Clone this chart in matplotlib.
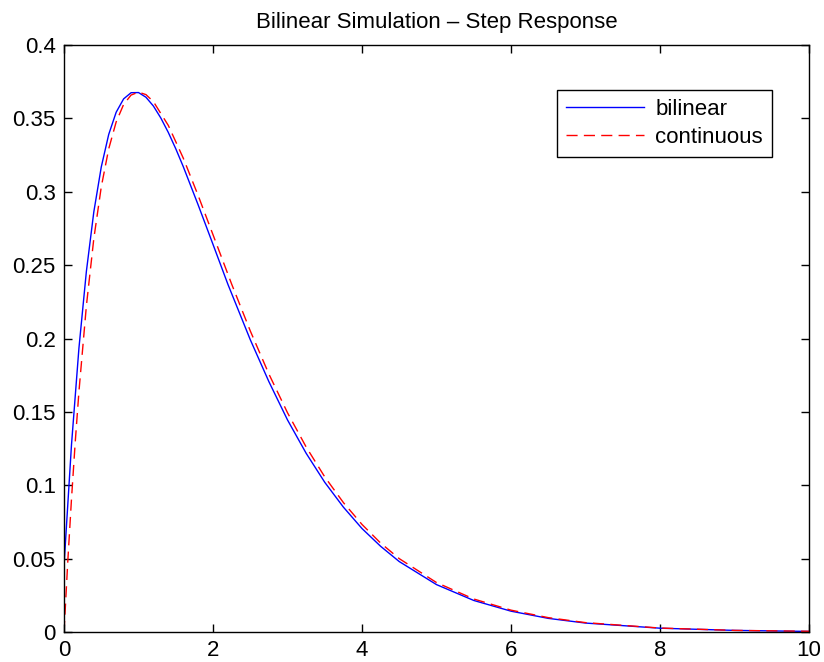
import matplotlib
matplotlib.use("Agg")
import matplotlib.pyplot as plt

plt.rcParams['font.family'] = ['Liberation Sans', 'DejaVu Sans']

# bilinear (discrete, T = 0.1) response
t_bil = [0, 0.1, 0.2, 0.3, 0.4, 0.5, 0.6, 0.7, 0.8, 0.9, 1.0, 1.1, 1.2, 1.3,
         1.4, 1.5, 1.6, 1.8, 2.0, 2.2, 2.5, 2.75, 3.0, 3.25, 3.5, 3.75, 4.0,
         4.25, 4.5, 5.0, 5.5, 6.0, 6.5, 7.0, 8.0, 9.0, 10.0]
y_bil = [0.0454, 0.1274, 0.1934, 0.2457, 0.2863, 0.3169, 0.3391, 0.3542,
         0.3633, 0.3675, 0.3676, 0.3644, 0.3584, 0.3502, 0.3404, 0.3293,
         0.3172, 0.2911, 0.2641, 0.2369, 0.1992, 0.1706, 0.1445, 0.1218,
         0.1020, 0.0851, 0.0705, 0.0584, 0.0480, 0.0323, 0.0215, 0.0142,
         0.0093, 0.0061, 0.0026, 0.0011, 0.0004]

# continuous response
t_cont = [0, 0.05, 0.1, 0.15, 0.2, 0.3, 0.4, 0.5, 0.6, 0.7, 0.8, 0.9, 1.0,
          1.1, 1.2, 1.4, 1.6, 1.8, 2.0, 2.25, 2.5, 2.75, 3.0, 3.25, 3.5,
          3.75, 4.0, 4.25, 4.5, 5.0, 5.5, 6.0, 6.5, 7.0, 8.0, 9.0, 10.0]
y_cont = [0.0, 0.0476, 0.0905, 0.1291, 0.1637, 0.2222, 0.2681, 0.3033,
          0.3293, 0.3476, 0.3595, 0.3659, 0.3679, 0.3662, 0.3614, 0.3452,
          0.3230, 0.2975, 0.2707, 0.2371, 0.2052, 0.1758, 0.1494, 0.1261,
          0.1057, 0.0882, 0.0733, 0.0606, 0.0500, 0.0337, 0.0225, 0.0149,
          0.0098, 0.0064, 0.0027, 0.0011, 0.0005]

x_ticks = [0, 2, 4, 6, 8, 10]
y_ticks = [0, 0.05, 0.1, 0.15, 0.2, 0.25, 0.3, 0.35, 0.4]
y_labels = ['0', '0.05', '0.1', '0.15', '0.2', '0.25', '0.3', '0.35', '0.4']

fig = plt.figure(figsize=(8.24, 6.62), dpi=100)
ax = fig.add_axes([0.0777, 0.0453, 0.9041, 0.8867])

ax.plot(t_bil, y_bil, color='#0000ff', lw=1.0, label='bilinear')
ax.plot(t_cont, y_cont, color='#ff0000', lw=1.0, ls=(0, (8, 4.5)), label='continuous')

ax.set_xlim(0, 10)
ax.set_ylim(0, 0.4)
ax.set_xticks(x_ticks)
ax.set_yticks(y_ticks)
ax.set_yticklabels(y_labels)
ax.tick_params(direction='in', top=True, right=True, labelsize=16, length=6, width=1, pad=6)
for s in ax.spines.values():
    s.set_linewidth(1)

ax.set_title('Bilinear Simulation – Step Response', fontsize=16, pad=12)

leg = ax.legend(loc='upper right', bbox_to_anchor=(0.950, 0.923), borderaxespad=0,
                fontsize=16, fancybox=False, framealpha=1, edgecolor='black',
                handlelength=3.5, handletextpad=0.5, borderpad=0.4, labelspacing=0.3)
leg.get_frame().set_linewidth(1)

fig.savefig('out.png', dpi=100)
